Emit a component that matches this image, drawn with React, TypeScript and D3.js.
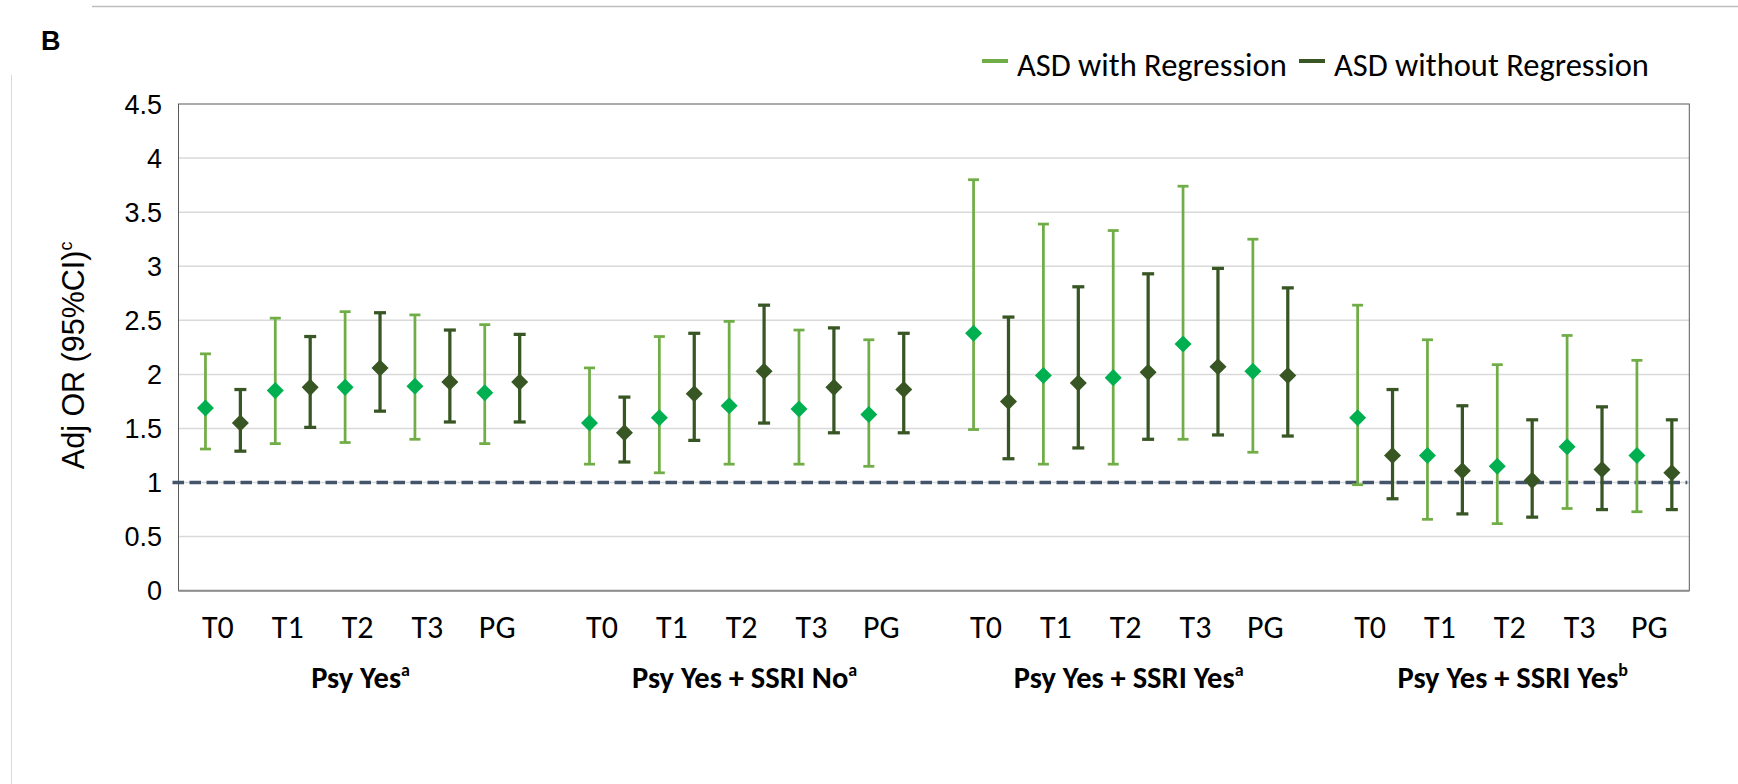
import React from "react";
import * as d3 from "d3";

// ---------- data ----------
const groups = ["Psy Yes", "Psy Yes + SSRI No", "Psy Yes + SSRI Yes", "Psy Yes + SSRI Yes"];
const groupSup = ["a", "a", "a", "b"];
const timepoints = ["T0", "T1", "T2", "T3", "PG"];
const seriesNames = ["ASD with Regression", "ASD without Regression"];
const yTicks = [0, 0.5, 1, 1.5, 2, 2.5, 3, 3.5, 4, 4.5];

// ASD with Regression (per group: T0, T1, T2, T3, PG)
const withRegOR = [
  [1.69, 1.85, 1.88, 1.89, 1.83],
  [1.55, 1.6, 1.71, 1.68, 1.63],
  [2.38, 1.99, 1.97, 2.28, 2.03],
  [1.6, 1.25, 1.15, 1.33, 1.25],
];
const withRegLow = [
  [1.31, 1.36, 1.37, 1.4, 1.36],
  [1.17, 1.09, 1.17, 1.17, 1.15],
  [1.49, 1.17, 1.17, 1.4, 1.28],
  [0.98, 0.66, 0.62, 0.76, 0.73],
];
const withRegHigh = [
  [2.19, 2.52, 2.58, 2.55, 2.46],
  [2.06, 2.35, 2.49, 2.41, 2.32],
  [3.8, 3.39, 3.33, 3.74, 3.25],
  [2.64, 2.32, 2.09, 2.36, 2.13],
];

// ASD without Regression
const withoutRegOR = [
  [1.55, 1.88, 2.06, 1.93, 1.93],
  [1.46, 1.82, 2.03, 1.88, 1.86],
  [1.75, 1.92, 2.02, 2.07, 1.99],
  [1.25, 1.11, 1.02, 1.12, 1.09],
];
const withoutRegLow = [
  [1.29, 1.51, 1.66, 1.56, 1.56],
  [1.19, 1.39, 1.55, 1.46, 1.46],
  [1.22, 1.32, 1.4, 1.44, 1.43],
  [0.85, 0.71, 0.68, 0.75, 0.75],
];
const withoutRegHigh = [
  [1.86, 2.35, 2.57, 2.41, 2.37],
  [1.79, 2.38, 2.64, 2.43, 2.38],
  [2.53, 2.81, 2.93, 2.98, 2.8],
  [1.86, 1.71, 1.58, 1.7, 1.58],
];

const refLine = 1;

// ---------- layout / style ----------
const W = 1738;
const H = 784;
const plot = { left: 178.5, right: 1689.3, top: 104, bottom: 590.7 };
const slotRange: [number, number] = [188, 1689.3];
const barColors = ["#70AD47", "#375623"];
const markerColors = ["#00B050", "#375623"];
const barWidths = [2.75, 3.25];
const capHalf = [5.5, 6];
const calibri = "Carlito, Lato, 'Open Sans', sans-serif";
const arial = "'Liberation Sans', Arial, sans-serif";

const slotsPerGroup = timepoints.length * 2 + 1;
const nSlots = groups.length * slotsPerGroup - 1;

export default function App() {
  const x = d3
    .scaleBand<number>()
    .domain(d3.range(nSlots))
    .range(slotRange)
    .padding(0);
  const bw = x.bandwidth();
  const cx = (g: number, t: number, s: number) => (x(g * slotsPerGroup + t * 2 + s) as number) + bw / 2;
  const y = d3.scaleLinear().domain([0, 4.5]).range([plot.bottom, plot.top]);

  const seriesData = [
    { or: withRegOR, lo: withRegLow, hi: withRegHigh },
    { or: withoutRegOR, lo: withoutRegLow, hi: withoutRegHigh },
  ];

  const diamond = d3.symbol().type(d3.symbolSquare).size(145)() as string;

  const points: any[] = [];
  seriesData.forEach((sd, s) => {
    groups.forEach((_, g) => {
      timepoints.forEach((_, t) => {
        points.push({ s, g, t, or: sd.or[g][t], lo: sd.lo[g][t], hi: sd.hi[g][t] });
      });
    });
  });

  return (
    <svg
      width={W}
      height={H}
      style={{ position: "absolute", left: 0, top: 0, background: "#fff" }}
    >
      {/* frame decorations */}
      <line x1={92} x2={W} y1={6.5} y2={6.5} stroke="#BFBFBF" strokeWidth={1.5} />
      <line x1={11.5} x2={11.5} y1={75} y2={H} stroke="#D9D9D9" strokeWidth={1} />
      <text x={41} y={50} fontFamily={arial} fontWeight="bold" fontSize={27} fill="#000">
        B
      </text>

      {/* legend */}
      {seriesNames.map((name, i) => {
        const lx = i === 0 ? 982 : 1299;
        return (
          <g key={name}>
            <line x1={lx} x2={lx + 26} y1={61} y2={61} stroke={barColors[i]} strokeWidth={4} />
            <text x={lx + 35} y={76} fontFamily={calibri} fontSize={32.5} fill="#000">
              {name}
            </text>
          </g>
        );
      })}

      {/* gridlines */}
      {yTicks
        .filter((v) => v > 0 && v < 4.5)
        .map((v) => (
          <line
            key={"g" + v}
            x1={plot.left}
            x2={plot.right}
            y1={y(v)}
            y2={y(v)}
            stroke="#D9D9D9"
            strokeWidth={1.5}
          />
        ))}

      {/* plot border */}
      <rect
        x={plot.left}
        y={plot.top}
        width={plot.right - plot.left}
        height={plot.bottom - plot.top}
        fill="none"
        stroke="#595959"
        strokeWidth={1}
      />
      <line x1={plot.left} x2={plot.right} y1={plot.bottom} y2={plot.bottom} stroke="#8C8C8C" strokeWidth={2} />

      {/* y tick labels */}
      {yTicks.map((v) => (
        <text
          key={"t" + v}
          x={162}
          y={y(v) + 9.5}
          textAnchor="end"
          fontFamily={arial}
          fontSize={27}
          fill="#000"
        >
          {String(v)}
        </text>
      ))}

      {/* y axis title */}
      <text
        transform={`translate(84, ${(plot.top + plot.bottom) / 2 + 8}) rotate(-90)`}
        textAnchor="middle"
        fontFamily={arial}
        fontSize={30.5}
        fill="#000"
      >
        Adj OR (95%CI)
        <tspan fontSize={18} dy={-12}>
          c
        </tspan>
      </text>

      {/* reference line at OR = 1 */}
      <line
        x1={plot.left - 6}
        x2={plot.right - 2}
        y1={y(refLine)}
        y2={y(refLine)}
        stroke="#44546A"
        strokeWidth={3.5}
        strokeDasharray="11.5 5.5"
      />

      {/* error bars */}
      {points.map((p, i) => {
        const px = cx(p.g, p.t, p.s);
        const c = capHalf[p.s];
        return (
          <g key={"e" + i} stroke={barColors[p.s]} strokeWidth={barWidths[p.s]}>
            <line x1={px} x2={px} y1={y(p.lo)} y2={y(p.hi)} />
            <line x1={px - c} x2={px + c} y1={y(p.lo)} y2={y(p.lo)} />
            <line x1={px - c} x2={px + c} y1={y(p.hi)} y2={y(p.hi)} />
          </g>
        );
      })}

      {/* markers */}
      {points.map((p, i) => (
        <path
          key={"m" + i}
          d={diamond}
          transform={`translate(${cx(p.g, p.t, p.s)}, ${y(p.or)}) rotate(45)`}
          fill={markerColors[p.s]}
        />
      ))}

      {/* x category labels */}
      {groups.map((_, g) =>
        timepoints.map((tp, t) => (
          <text
            key={"x" + g + t}
            x={(cx(g, t, 0) + cx(g, t, 1)) / 2 - 5}
            y={638}
            textAnchor="middle"
            fontFamily={calibri}
            fontSize={32}
            fill="#000"
          >
            {tp}
          </text>
        ))
      )}

      {/* group labels */}
      {groups.map((name, g) => (
        <text
          key={"grp" + g}
          x={(cx(g, 2, 0) + cx(g, 2, 1)) / 2 - 2}
          y={688}
          textAnchor="middle"
          fontFamily={calibri}
          fontWeight="bold"
          fontSize={30.5}
          fill="#000"
        >
          {name}
          <tspan fontSize={18} dy={-12}>
            {groupSup[g]}
          </tspan>
        </text>
      ))}
    </svg>
  );
}
